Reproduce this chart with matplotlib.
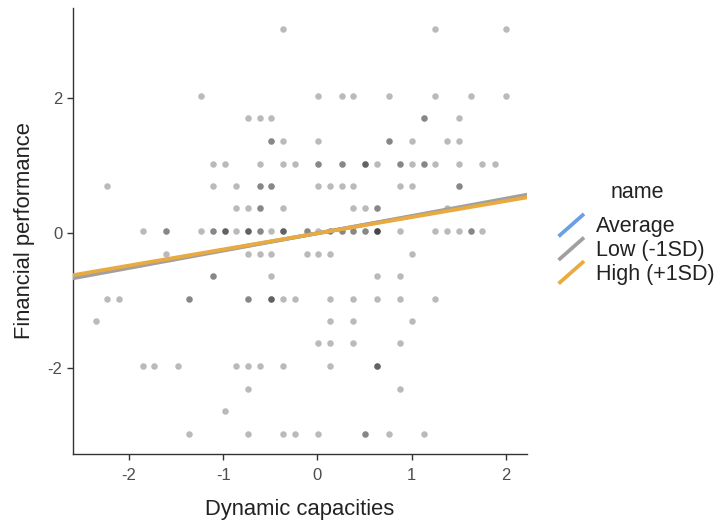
import numpy as np
import matplotlib.pyplot as plt
from matplotlib.lines import Line2D
from matplotlib.legend_handler import HandlerBase

plt.rcParams['font.family'] = ['Liberation Sans', 'DejaVu Sans']
plt.rcParams['axes.unicode_minus'] = False

# financial performance levels (rows) and dynamic capacities values on each row
fp_levels = [3.03, 2.03, 1.70, 1.37, 1.03, 0.70, 0.37, 0.03, -0.30, -0.63,
             -0.97, -1.30, -1.63, -1.97, -2.30, -2.63, -2.97]
dc_by_level = [
    [-0.36, 1.25, 2.00],
    [-1.23, 0.01, 0.26, 0.38, 0.76, 1.25, 1.63, 2.00],
    [-0.74, -0.61, -0.49, 1.13, 1.13, 1.50],
    [-0.49, -0.49, -0.36, 0.01, 0.76, 0.76, 1.00, 1.38, 1.50],
    [-1.11, -0.98, -0.61, -0.36, -0.24, 0.01, 0.01, 0.26, 0.26, 0.51, 0.51, 0.51,
     0.63, 0.88, 0.88, 1.00, 1.13, 1.13, 1.25, 1.50, 1.75, 1.88],
    [-2.23, -1.11, -0.86, -0.61, -0.61, -0.49, -0.49, 0.01, 0.13, 0.26, 0.38,
     0.88, 1.00, 1.50, 1.50],
    [-0.86, -0.74, -0.61, -0.61, -0.36, 0.38, 0.51, 0.63, 0.63, 1.38],
    [-1.85, -1.61, -1.61, -1.23, -1.11, -1.11, -0.98, -0.98, -0.98, -0.86, -0.74,
     -0.74, -0.74, -0.61, -0.61, -0.49, -0.36, -0.36, -0.36, -0.11, -0.11, 0.01,
     0.13, 0.13, 0.26, 0.26, 0.38, 0.38, 0.51, 0.51, 0.63, 0.63, 0.63, 0.63, 0.88,
     1.25, 1.38, 1.50, 1.63, 1.63, 1.75],
    [-1.61, -0.74, -0.61, -0.49, -0.11, 0.01, 0.13, 1.00],
    [-1.11, -1.11, -0.49, 0.63, 0.88],
    [-2.23, -2.10, -1.36, -1.36, -0.74, -0.74, -0.49, -0.49, -0.49, -0.36, -0.24,
     0.13, 0.38, 0.63, 0.88, 1.25],
    [-2.35, 0.13, 0.38, 1.00],
    [0.01, 0.13, 0.38, 0.88],
    [-1.85, -1.73, -1.48, -0.86, -0.74, -0.61, -0.36, 0.13, 0.63, 0.63, 0.63],
    [-0.74, 0.88],
    [-0.98],
    [-1.36, -0.74, -0.36, -0.24, 0.01, 0.51, 0.51, 0.76, 1.13],
]

# simple slopes
line_names = ['Average', 'Low (-1SD)', 'High (+1SD)']
line_slopes = [0.248, 0.257, 0.239]
line_intercepts = [0.0, 0.0, 0.0]
line_colors = ['#6A9FE5', '#A0A0A0', '#E9AB3F']

x_pts = []
y_pts = []
for lvl, xs in zip(fp_levels, dc_by_level):
    x_pts += xs
    y_pts += [lvl] * len(xs)
x_pts = np.array(x_pts)
y_pts = np.array(y_pts)


class DiagHandler(HandlerBase):
    def create_artists(self, legend, orig_handle, xdescent, ydescent,
                       width, height, fontsize, trans):
        ln = Line2D([-xdescent, -xdescent + width], [-ydescent, -ydescent + height],
                    color=orig_handle.get_color(), lw=orig_handle.get_linewidth(),
                    transform=trans)
        return [ln]


fig = plt.figure(figsize=(7.18, 5.22), dpi=100)
ax = fig.add_axes([0.1017, 0.131, 0.632, 0.854])

ax.scatter(x_pts, y_pts, s=22, color='black', alpha=0.27, linewidths=0, zorder=2)

handles = []
for name, m, b, c in zip(line_names, line_slopes, line_intercepts, line_colors):
    ln = ax.axline((0, b), slope=m, color=c, lw=2.7, zorder=3, label=name)
    handles.append(ln)

ax.set_xlim(-2.593, 2.222)
ax.set_ylim(-3.262, 3.338)
ax.set_xticks([-2, -1, 0, 1, 2])
ax.set_yticks([-2, 0, 2])

for side in ['top', 'right']:
    ax.spines[side].set_visible(False)
for side in ['left', 'bottom']:
    ax.spines[side].set_color('#333333')
    ax.spines[side].set_linewidth(1.0)
ax.tick_params(length=4, width=1.0, color='#333333', labelcolor='#4D4D4D', labelsize=12)
ax.tick_params(axis='x', pad=6)

ax.set_xlabel('Dynamic capacities', fontsize=15.8, color='#222222', labelpad=12)
ax.set_ylabel('Financial performance', fontsize=15.8, color='#222222', labelpad=9)

leg = fig.legend(handles=handles, labels=line_names, title='name',
                 handler_map={Line2D: DiagHandler()},
                 loc='upper left', bbox_to_anchor=(560 / 718, 0.652),
                 frameon=False, fontsize=15.5, title_fontsize=15.5,
                 handlelength=1.05, handleheight=1.05, labelspacing=0.06,
                 handletextpad=0.6, borderpad=0, borderaxespad=0)
leg._legend_box.sep = 9
for t in leg.get_texts():
    t.set_color('#222222')
leg.get_title().set_color('#222222')

plt.savefig('out.png', dpi=100)
